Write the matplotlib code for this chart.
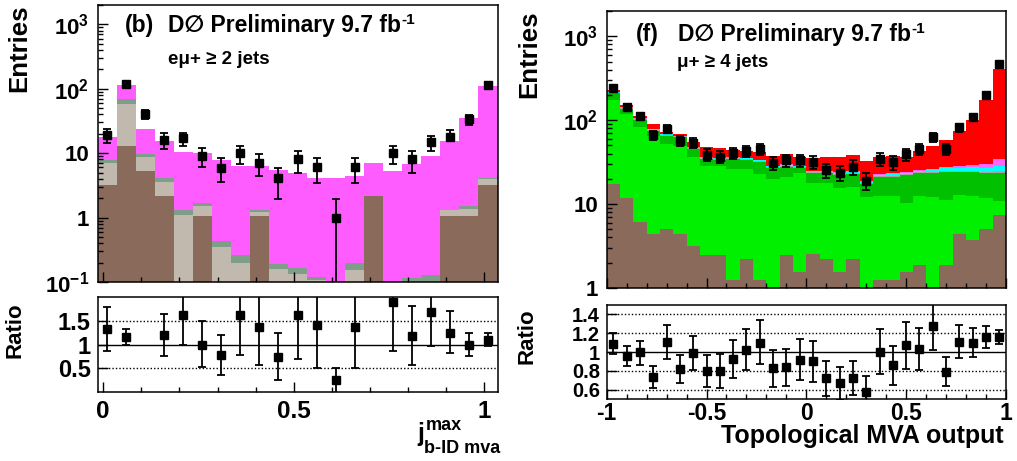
import numpy as np
import matplotlib
matplotlib.use("Agg")
import matplotlib.pyplot as plt
from matplotlib.ticker import FixedLocator, FixedFormatter, LogLocator, NullFormatter, MultipleLocator

plt.rcParams['font.family'] = ['Liberation Sans', 'DejaVu Sans']
plt.rcParams['font.weight'] = 'bold'
plt.rcParams['mathtext.fontset'] = 'custom'
plt.rcParams['mathtext.rm'] = 'Liberation Sans:bold'
plt.rcParams['mathtext.bf'] = 'Liberation Sans:bold'
plt.rcParams['mathtext.it'] = 'Liberation Sans:bold'
plt.rcParams['axes.unicode_minus'] = False
plt.rcParams['axes.axisbelow'] = False

nan = np.nan

# ---- left panel (b): e mu + >= 2 jets, b-ID mva ----
l_edges = np.linspace(-0.015, 1.035, 22)
l_brown = [3.16, 12.9, 5.2, 2.13, 0, 1.04, 0, 0, 1.04, 0, 0, 0, 0, 0, 2.13, 0, 0, 0, 1.04, 1.04, 3.16]
l_beige = [3.9, 46.1, 3.46, 1.47, 1.09, 0.48, 0.344, 0.198, 0.2, 0.16, 0.133, 0.108, 0, 0.154, 0.02, 0, 0, 0, 0.26, 0.34, 0.76]
l_ggreen = [0.91, 10.8, 0.98, 0.47, 0.2, 0.19, 0.093, 0.066, 0.06, 0.03, 0.033, 0.01, 0, 0.044, 0.02, 0, 0.114, 0.13, 0.01, 0.11, 0.25]
l_magenta = [9.6, 45, 14.4, 11.5, 9.3, 8.4, 7.4, 6.0, 5.0, 5.2, 4.8, 4.05, 4.07, 4.23, 4.9, 5.3, 6.7, 9.0, 14.1, 33.3, 105]

l_data = [19, 120, 40, 16, 17, 9.0, 5.8, 10, 7, 4.1, 8.1, 6.0, 1.0, 6.0, nan, 10, 8.1, 14.9, 17.8, 34, 115]
l_lo = [14.6, 109, 34, 11.8, 13, 6.1, 3.6, 6.7, 4.4, 1.96, 5.0, 3.5, 0.05, 3.5, nan, 6.7, 5.0, 11, 15.4, 27, 104]
l_hi = [23.6, 131, 47, 20.3, 20.8, 12.1, 8.4, 13, 9.6, 5.9, 10.8, 8.4, 1.96, 8.4, nan, 13, 10.8, 18.7, 22.6, 39, 126]

l_ratio = [1.32, 1.16, nan, 1.20, 1.62, 1.0, 0.78, 1.62, 1.36, 0.74, 1.62, 1.42, 0.25, 1.37, nan, 1.90, 1.18, 1.68, 1.25, 0.99, 1.10]
l_rlo = [0.865, 1.0, nan, 0.76, 0.99, 0.53, 0.35, 0.78, 0.56, 0.25, 0.69, 0.51, -0.1, 0.5, nan, 0.87, 0.56, 0.97, 0.82, 0.76, 0.97]
l_rhi = [1.80, 1.32, nan, 1.64, 2.3, 1.49, 1.2, 2.3, 2.3, 1.24, 2.3, 2.3, 0.5, 2.3, nan, 2.5, 1.81, 2.3, 1.71, 1.24, 1.24]

# ---- right panel (f): mu + >= 4 jets, topological MVA ----
r_edges = np.linspace(-1, 1, 31)
r_brown = [17.3, 11.8, 6.2, 4.4, 5.0, 4.4, 3.13, 2.5, 2.5, 1.25, 2.2, 1.25, 0, 2.5, 1.56, 2.54, 2.2, 1.55, 2.2, 0,
           1.25, 1.25, 1.55, 1.88, 0, 1.88, 4.4, 3.73, 5.0, 7.4]
r_lgreen = [158.7, 108.2, 77.2, 60.1, 46.8, 44.6, 32.9, 25.8, 25.8, 24.65, 23.7, 21.55, 20, 18.3, 21.64, 15.06, 15.4,
            13.95, 13.9, 12.2, 11.15, 11.25, 8.65, 10.62, 12.2, 9.32, 8.4, 8.77, 6.8, 3.6]
r_dgreen = [32, 16, 16.6, 10.1, 13.2, 13.3, 8.8, 5.7, 5.1, 8.1, 7.5, 9.1, 6.6, 7.0, 3.6, 5.6, 5.6, 6.6, 6.7, 5.1,
            8.6, 8.5, 11.8, 10.7, 11, 13, 11.4, 11.7, 11.4, 12.6]
r_grey = [5, 4, 3, 2.5, 2, 2, 1.5, 1.2, 1.2, 1.2, 1.2, 1.1, 1, 1, 1, 0.9, 0.9, 0.9, 0.9, 0.7,
          0.8, 0.8, 0.8, 0.8, 0.8, 0.9, 0.9, 0.9, 1.0, 1.1]
r_cyan = [2, 1.5, 1.2, 1, 0.8, 0.8, 0.6, 0.5, 0.5, 0.5, 0.5, 0.5, 0.5, 0.5, 0.5, 0.5, 0.5, 0.6, 0.6, 0.5,
          0.7, 0.8, 0.9, 1.0, 1.2, 1.5, 1.8, 2.2, 2.8, 3.6]
r_magenta = [1.5, 1, 0.8, 0.6, 0.5, 0.5, 0.4, 0.4, 0.4, 0.4, 0.4, 0.4, 0.4, 0.4, 0.4, 0.4, 0.4, 0.5, 0.5, 0.5,
             0.5, 0.6, 0.7, 0.8, 1.0, 1.2, 1.5, 2.0, 3.0, 5.7]
r_red = [9.5, 7.5, 8, 12.3, 3.7, 3.4, 7.2, 11.9, 10.5, 7.9, 7.5, 8.1, 8.8, 9.8, 7.8, 10.5, 11, 11.9, 13.4, 14,
         13, 13.8, 12.1, 17.7, 22.8, 30.2, 45.6, 71.7, 145, 368]

r_data = [243, 144, 111, 67, 79.5, 56.7, 53.7, 38.6, 36.6, 40.8, 43.1, 45.6, 31, 33.1, 33.1, 31.9, 25.4, 23.6, 27.8, 19,
          34.6, 31.4, 39, 44.8, 62.2, 45.5, 81.8, 109, 202, 464]
r_err = [15.6, 12, 10.5, 8.2, 8.9, 7.5, 7.3, 6.2, 6.0, 6.4, 6.6, 6.8, 5.6, 5.8, 5.8, 5.6, 5.0, 4.9, 5.3, 4.4,
         5.9, 5.6, 6.2, 6.7, 7.9, 6.7, 9.0, 10.4, 14.2, 21.5]

r_ratio = [1.083, 0.958, 0.997, 0.736, 1.108, 0.82, 0.99, 0.80, 0.80, 0.93, 1.017, 1.10, 0.83, 0.837, 0.913, 0.90, 0.72,
           0.67, 0.73, 0.58, 1.0, 0.858, 1.073, 1.035, 1.27, 0.79, 1.104, 1.097, 1.163, 1.163]
r_rlo = [0.98, 0.85, 0.858, 0.618, 0.93, 0.677, 0.806, 0.625, 0.618, 0.722, 0.806, 0.872, 0.625, 0.64, 0.705, 0.68,
         0.535, 0.49, 0.545, 0.45, 0.764, 0.653, 0.823, 0.809, 1.024, 0.642, 0.934, 0.951, 1.04, 1.087]
r_rhi = [1.20, 1.066, 1.118, 0.847, 1.288, 0.965, 1.174, 0.965, 0.976, 1.128, 1.24, 1.337, 1.024, 1.035, 1.139, 1.118,
         0.903, 0.844, 0.91, 0.747, 1.243, 1.059, 1.316, 1.253, 1.55, 0.948, 1.288, 1.25, 1.278, 1.236]

W, H = 1017, 461
fig = plt.figure(figsize=(W / 100, H / 100), dpi=100)


def rect(x0, y0, x1, y1):
    return [x0 / W, 1 - y1 / H, (x1 - x0) / W, (y1 - y0) / H]


def ftext(x, y, s, **kw):
    return fig.text(x / W, 1 - y / H, s, **kw)


def draw_stack(ax, edges, layers, colors, ymin):
    cums = np.cumsum(np.array(layers, dtype=float), axis=0)
    for cum, col in reversed(list(zip(cums, colors))):
        ax.stairs(np.clip(cum, ymin * 0.5, None), edges, baseline=ymin * 0.5, fill=True,
                  color=col, lw=0, zorder=1)


def draw_points(ax, x, y, lo, hi):
    y = np.array(y, dtype=float)
    err = [y - np.array(lo, dtype=float), np.array(hi, dtype=float) - y]
    ax.errorbar(x, y, yerr=err, fmt='s', color='black', ms=5.4, elinewidth=1.3,
                capsize=3.2, capthick=1.3, zorder=3, clip_on=True)


def style(ax):
    ax.tick_params(which='both', direction='in', top=False, right=False, width=1)
    ax.tick_params(which='major', length=7)
    ax.tick_params(which='minor', length=3.5)
    for s in ax.spines.values():
        s.set_linewidth(1.1)


def log_labels(ax, decades):
    names = {3: '$10^{3}$', 2: '$10^{2}$', 1: '10', 0: '1', -1: '$10^{-1}$'}
    ax.yaxis.set_major_locator(FixedLocator([10.0 ** d for d in decades]))
    ax.yaxis.set_major_formatter(FixedFormatter([names[d] for d in decades]))
    ax.yaxis.set_minor_locator(LogLocator(base=10, subs=np.arange(2, 10), numticks=20))
    ax.yaxis.set_minor_formatter(NullFormatter())
    ax.tick_params(axis='y', which='major', labelsize=16, pad=6)


# ---------------- left ----------------
axL = fig.add_axes(rect(97.5, 5, 497.5, 282))
axLr = fig.add_axes(rect(97.5, 297, 497.5, 392))
lc = 0.5 * (l_edges[:-1] + l_edges[1:])

draw_stack(axL, l_edges, [l_brown, l_beige, l_ggreen, l_magenta],
           ['#8a6a5b', '#c1b8ae', '#7e9e89', '#ff5cff'], 0.1)
draw_points(axL, lc, l_data, l_lo, l_hi)
axL.set_yscale('log')
axL.set_ylim(0.1, 2000)
axL.set_xlim(l_edges[0], l_edges[-1])
style(axL)
log_labels(axL, [3, 2, 1, 0, -1])
axL.xaxis.set_major_locator(MultipleLocator(0.5))
axL.xaxis.set_minor_locator(MultipleLocator(0.1))
axL.tick_params(axis='x', labelbottom=False)

for yv in [0.5, 1.5]:
    axLr.axhline(yv, color='black', ls=(0, (1, 1.5)), lw=1, zorder=0)
axLr.axhline(1, color='black', lw=1, zorder=0)
draw_points(axLr, lc, l_ratio, l_rlo, l_rhi)
axLr.set_xlim(l_edges[0], l_edges[-1])
axLr.set_ylim(0, 2)
style(axLr)
axLr.yaxis.set_major_locator(FixedLocator([0.5, 1, 1.5]))
axLr.yaxis.set_major_formatter(FixedFormatter(['0.5', '1', '1.5']))
axLr.xaxis.set_major_locator(FixedLocator([0, 0.5, 1]))
axLr.xaxis.set_major_formatter(FixedFormatter(['0', '0.5', '1']))
axLr.xaxis.set_minor_locator(MultipleLocator(0.1))
axLr.tick_params(axis='y', labelsize=17, pad=5)
axLr.tick_params(axis='x', labelsize=17.5, pad=6)

# ---------------- right ----------------
axR = fig.add_axes(rect(606.7, 11, 1006, 288))
axRr = fig.add_axes(rect(606.7, 304.7, 1006, 399.3))
rc = 0.5 * (r_edges[:-1] + r_edges[1:])

draw_stack(axR, r_edges, [r_brown, r_lgreen, r_dgreen, r_grey, r_cyan, r_magenta, r_red],
           ['#8a6a5b', '#00f000', '#00c000', '#a5a5a5', '#00ffff', '#ff66ff', '#ff0000'], 1)
r_d = np.array(r_data)
r_e = np.array(r_err)
draw_points(axR, rc, r_d, r_d - r_e, r_d + r_e)
axR.set_yscale('log')
axR.set_ylim(1, 2000)
axR.set_xlim(-1, 1)
style(axR)
log_labels(axR, [3, 2, 1, 0])
axR.xaxis.set_major_locator(MultipleLocator(0.5))
axR.xaxis.set_minor_locator(MultipleLocator(0.1))
axR.tick_params(axis='x', labelbottom=False)

for yv in [0.6, 0.8, 1.2, 1.4]:
    axRr.axhline(yv, color='black', ls=(0, (1, 1.5)), lw=1, zorder=0)
axRr.axhline(1, color='black', lw=1, zorder=0)
draw_points(axRr, rc, r_ratio, r_rlo, r_rhi)
axRr.set_xlim(-1, 1)
axRr.set_ylim(0.5, 1.5)
style(axRr)
axRr.yaxis.set_major_locator(FixedLocator([0.6, 0.8, 1, 1.2, 1.4]))
axRr.yaxis.set_major_formatter(FixedFormatter(['0.6', '0.8', '1', '1.2', '1.4']))
axRr.xaxis.set_major_locator(FixedLocator([-1, -0.5, 0, 0.5, 1]))
axRr.xaxis.set_major_formatter(FixedFormatter(['-1', '-0.5', '0', '0.5', '1']))
axRr.xaxis.set_minor_locator(MultipleLocator(0.1))
axRr.tick_params(axis='y', labelsize=14.5, pad=5)
axRr.tick_params(axis='x', labelsize=16.5, pad=2)

# ---------------- texts ----------------
ftext(19, 5, 'Entries', rotation=90, ha='center', va='top', size=18.5)
ftext(15, 330, 'Ratio', rotation=90, ha='center', va='center', size=16)
ftext(529, 10, 'Entries', rotation=90, ha='center', va='top', size=18.5)
ftext(527, 336, 'Ratio', rotation=90, ha='center', va='center', size=16)

ftext(125, 32, '(b)', ha='left', va='baseline', size=16.5)
tl = ftext(168, 32, 'D\u2205 Preliminary 9.7 fb', ha='left', va='baseline', size=16.5)
axL.annotate('-1', xy=(1, 1), xycoords=tl, xytext=(0.5, 1), textcoords='offset points',
             ha='left', va='top', size=11, annotation_clip=False)
ftext(168, 64, 'e\u03bc+ \u2265 2 jets', ha='left', va='baseline', size=13.5)

ftext(636, 41, '(f)', ha='left', va='baseline', size=16.5)
tr = ftext(678, 41, 'D\u2205 Preliminary 9.7 fb', ha='left', va='baseline', size=16.5)
axR.annotate('-1', xy=(1, 1), xycoords=tr, xytext=(0.5, 1), textcoords='offset points',
             ha='left', va='top', size=11, annotation_clip=False)
ftext(677, 67, '\u03bc+ \u2265 4 jets', ha='left', va='baseline', size=13.5)

ftext(417, 441, 'j', ha='left', va='baseline', size=18)
ftext(426, 430, 'max', ha='left', va='baseline', size=13)
ftext(424, 453, 'b-ID mva', ha='left', va='baseline', size=13)
ftext(1004, 443, 'Topological MVA output', ha='right', va='baseline', size=18)

fig.savefig('out.png', dpi=100)
